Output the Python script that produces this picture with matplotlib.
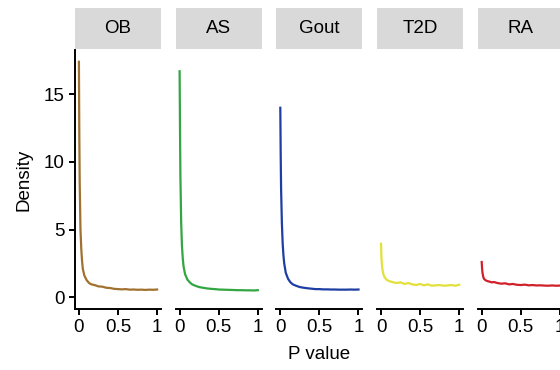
import numpy as np
import matplotlib.pyplot as plt

plt.rcParams['font.family'] = ['Liberation Sans', 'DejaVu Sans']

# p-value grid for the density curves
p_grid = [0, 0.005, 0.01, 0.02, 0.03, 0.04, 0.05, 0.07, 0.1, 0.13, 0.16, 0.2,
          0.25, 0.3, 0.35, 0.4, 0.45, 0.5, 0.55, 0.6, 0.65, 0.7, 0.75, 0.8,
          0.85, 0.9, 0.95, 1.0]

traits = ['OB', 'AS', 'Gout', 'T2D', 'RA']
colors = ['#A0712F', '#33A541', '#1F3EA3', '#E2E03A', '#D0202A']

dens_ob = [17.4, 12.0, 8.5, 5.0, 3.6, 2.7, 2.1, 1.6, 1.25, 1.05, 0.95, 0.9,
           0.8, 0.78, 0.7, 0.68, 0.62, 0.6, 0.58, 0.6, 0.56, 0.57, 0.55, 0.56,
           0.54, 0.56, 0.55, 0.57]
dens_as = [16.7, 12.5, 9.0, 5.5, 3.8, 2.9, 2.3, 1.7, 1.3, 1.1, 0.95, 0.85,
           0.75, 0.7, 0.65, 0.62, 0.6, 0.57, 0.56, 0.55, 0.54, 0.53, 0.52, 0.52,
           0.51, 0.51, 0.5, 0.52]
dens_gout = [14.0, 10.5, 8.0, 5.5, 4.0, 3.1, 2.5, 1.8, 1.35, 1.1, 0.95, 0.85,
             0.75, 0.7, 0.66, 0.63, 0.6, 0.6, 0.58, 0.58, 0.57, 0.57, 0.56, 0.56,
             0.56, 0.57, 0.56, 0.57]
dens_t2d = [3.95, 3.0, 2.5, 2.0, 1.7, 1.55, 1.45, 1.3, 1.2, 1.15, 1.1, 1.05,
            1.1, 0.98, 1.05, 0.95, 0.9, 0.98, 0.88, 0.95, 0.85, 0.88, 0.9, 0.85,
            0.87, 0.9, 0.85, 0.92]
dens_ra = [2.6, 2.1, 1.8, 1.5, 1.35, 1.3, 1.25, 1.2, 1.15, 1.1, 1.12, 1.05,
           1.0, 1.03, 0.95, 0.98, 0.92, 0.9, 0.93, 0.88, 0.9, 0.87, 0.88, 0.86,
           0.85, 0.87, 0.85, 0.86]
densities = [dens_ob, dens_as, dens_gout, dens_t2d, dens_ra]

W, H = 560, 370
fig = plt.figure(figsize=(W / 100, H / 100), dpi=100)

panel_w = 86
step = 100.7
left0 = 75
top, bottom = 50, 309
fs = 13.5

for i, (name, col, dens) in enumerate(zip(traits, colors, densities)):
    x0 = left0 + i * step
    ax = fig.add_axes([x0 / W, (H - bottom) / H, panel_w / W, (bottom - top) / H])
    ax.plot(p_grid, dens, color=col, lw=1.6)
    ax.set_xlim(-0.05, 1.05)
    ax.set_ylim(-0.87, 18.27)
    ax.set_xticks([0, 0.5, 1])
    ax.set_xticklabels(['0', '0.5', '1'])
    for s in ['top', 'right']:
        ax.spines[s].set_visible(False)
    ax.spines['bottom'].set_linewidth(1.4)
    ax.spines['left'].set_linewidth(1.4)
    ax.tick_params(axis='both', length=4.5, width=1.4, labelsize=fs, pad=3)
    if i == 0:
        ax.set_yticks([0, 5, 10, 15])
        ax.set_ylabel('Density', fontsize=fs, labelpad=8)
    else:
        ax.spines['left'].set_visible(False)
        ax.set_yticks([])
    if i == 2:
        ax.set_xlabel('P value', fontsize=fs, labelpad=7)

    # facet strip
    sax = fig.add_axes([x0 / W, (H - 49) / H, panel_w / W, 41 / H])
    sax.set_facecolor('#D9D9D9')
    sax.set_xticks([])
    sax.set_yticks([])
    for s in sax.spines.values():
        s.set_visible(False)
    sax.text(0.5, 0.5, name, ha='center', va='center', fontsize=fs,
             transform=sax.transAxes)

fig.savefig('out.png', dpi=100)
